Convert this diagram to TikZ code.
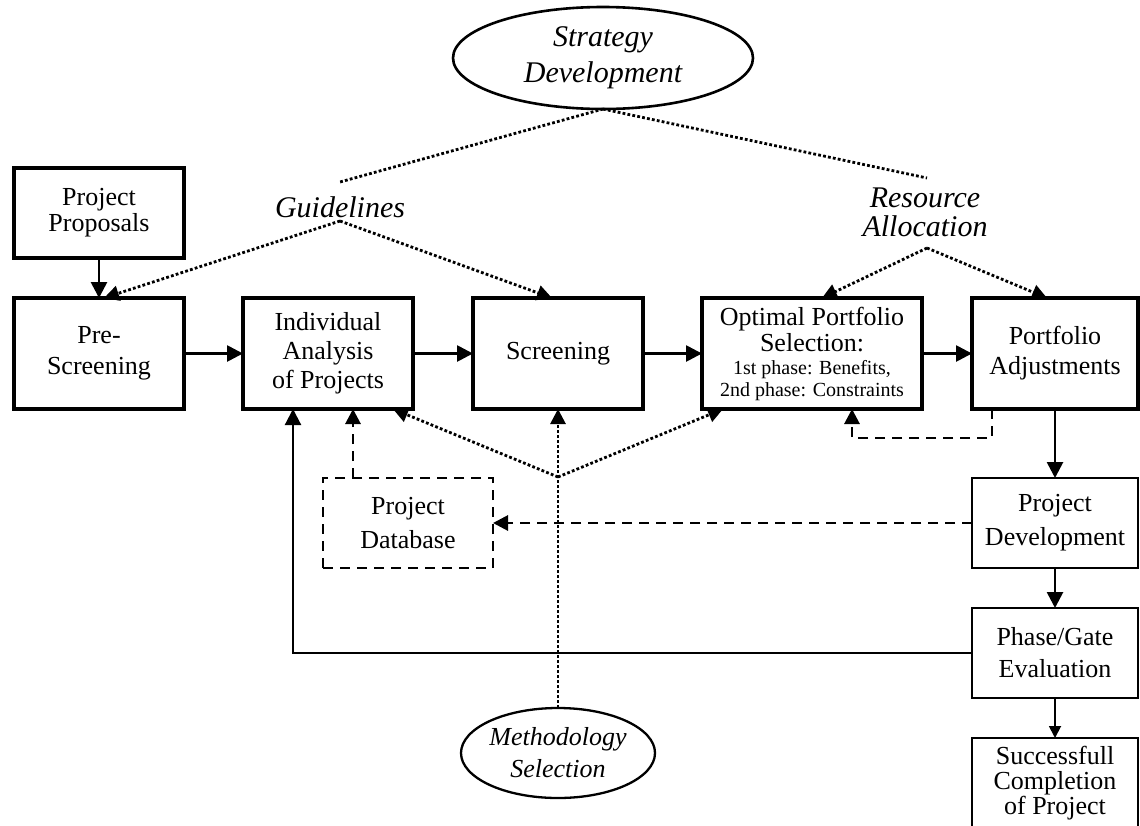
\documentclass[tikz,border=0pt]{standalone}
\usepackage{fontspec}
\setmainfont{Liberation Serif}
\usetikzlibrary{arrows.meta,shapes.geometric,calc}
\begin{document}
\begin{tikzpicture}[x=1pt,y=-1pt,
  pbox/.style={draw,rectangle,line width=3.2pt,inner sep=0pt,outer sep=0pt,align=center},
  thinbox/.style={pbox,line width=2.4pt},
  dbbox/.style={pbox,line width=2.8pt,dash pattern=on 10pt off 7pt},
  ovalnode/.style={draw,ellipse,line width=2.6pt,inner sep=0pt,outer sep=0pt,align=center},
  lbl/.style={align=center,inner sep=0pt,font=\itshape\fontsize{30}{29}\selectfont},
  flowarr/.style={line width=2.7pt,-{Triangle[length=16pt,width=16pt]}},
  dotline/.style={line width=2.8pt,dash pattern=on 2.8pt off 2.2pt},
  dashline/.style={line width=2.9pt,dash pattern=on 10pt off 7pt},
  headed/.style={-{Triangle[length=15pt,width=15pt]}}
]
\useasboundingbox (0,0) rectangle (1140,825);

% main process row
\node[pbox,minimum width=170pt,minimum height=90pt,font=\fontsize{26}{26}\selectfont] (prop) at (99,213) {Project\\Proposals};
\node[pbox,minimum width=170pt,minimum height=111pt,font=\fontsize{26}{31}\selectfont] (pre) at (99,353.5) {Pre-\\Screening};
\node[pbox,minimum width=170pt,minimum height=111pt,font=\fontsize{26}{29}\selectfont] (ind) at (328,353.5) {Individual\\Analysis\\of Projects};
\node[pbox,minimum width=170pt,minimum height=111pt,font=\fontsize{26}{29}\selectfont] (scr) at (558,353.5) {Screening};
\node[pbox,minimum width=220pt,minimum height=111pt,font=\fontsize{26}{26}\selectfont] (opt) at (812,353.5)
  {Optimal Portfolio\\Selection:\\[-3pt]{\fontsize{20}{22}\selectfont 1st phase: Benefits,}\\[-4pt]{\fontsize{20}{22}\selectfont 2nd phase: Constraints}};
\node[pbox,minimum width=166pt,minimum height=111pt,font=\fontsize{26}{30}\selectfont] (padj) at (1055,353.5) {Portfolio\\Adjustments};

% lower boxes
\node[dbbox,minimum width=170pt,minimum height=90pt,font=\fontsize{26}{34}\selectfont] (db) at (408,523) {Project\\Database};
\node[thinbox,minimum width=166pt,minimum height=90pt,font=\fontsize{26}{34}\selectfont] (pdev) at (1055,523) {Project\\Development};
\node[thinbox,minimum width=166pt,minimum height=90pt,font=\fontsize{26}{32}\selectfont] (pge) at (1055,653) {Phase/Gate\\Evaluation};
\node[thinbox,minimum width=166pt,minimum height=90pt,font=\fontsize{26}{25}\selectfont] (succ) at (1055,783) {Successfull\\Completion\\of Project};

% ovals and labels
\node[ovalnode,minimum width=300pt,minimum height=102pt,font=\itshape\fontsize{30}{36}\selectfont] (strat) at (603,58) {Strategy\\Development};
\node[ovalnode,line width=2.3pt,minimum width=191pt,minimum height=90pt,font=\itshape\fontsize{26}{32}\selectfont] (meth) at (558,753) {Methodology\\Selection};
\node[lbl] (guide) at (340,207) {Guidelines};
\node[lbl] (res) at (925,212) {Resource\\Allocation};

\coordinate (gtop) at (340,182);
\coordinate (gbot) at (340,221);
\coordinate (rtop) at (927,178);
\coordinate (rbot) at (927,248);
\coordinate (mpt) at (558,477);

% strategy influences
\draw[dotline] (strat.south) -- (gtop);
\draw[dotline] (strat.south) -- (rtop);
\draw[dotline,headed] (gbot) -- ([xshift=5pt]pre.north);
\draw[dotline,headed] (gbot) -- ([xshift=-6pt]scr.north);
\draw[dotline,headed] (rbot) -- ([xshift=10pt]opt.north);
\draw[dotline,headed] (rbot) -- ([xshift=-8pt]padj.north);

% main flow
\draw[flowarr] (prop) -- (pre);
\draw[flowarr] (pre) -- (ind);
\draw[flowarr] (ind) -- (scr);
\draw[flowarr] (scr) -- (opt);
\draw[flowarr] (opt) -- (padj);
\draw[flowarr] (padj) -- (pdev);
\draw[flowarr] (pdev) -- (pge);
\draw[line width=1.8pt,-{Triangle[length=12pt,width=12pt]}] (pge) -- (succ);

% feedback
\draw[dashline,headed] ([xshift=-63pt]padj.south) -- ++(0,29) -| ([xshift=40pt]opt.south);
\draw[dashline,headed] (pdev) -- (db);
\draw[dashline,headed] ([xshift=-55pt]db.north) -- ([xshift=25pt]ind.south);
\draw[flowarr,line width=2.2pt] (pge.west) -| ([xshift=-35pt]ind.south);

% methodology influences
\draw[dotline,headed] (meth.north) -- (scr.south);
\draw[dotline,headed] (mpt) -- ([xshift=65pt]ind.south);
\draw[dotline,headed] (mpt) -- ([xshift=-89pt]opt.south);
\end{tikzpicture}
\end{document}
